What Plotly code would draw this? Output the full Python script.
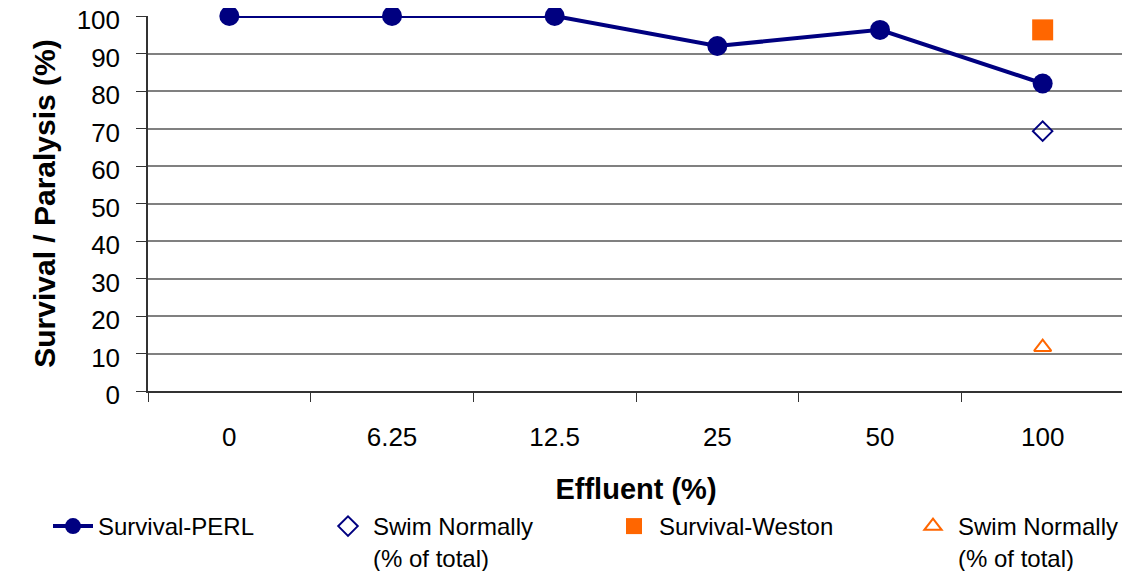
import plotly.graph_objects as go

categories = ["0", "6.25", "12.5", "25", "50", "100"]
perl_survival = [100, 100, 100, 92, 96.3, 82]
perl_swim_x = ["100"]
perl_swim = [69.3]
weston_survival_x = ["100"]
weston_survival = [96.3]
weston_swim_x = ["100"]
weston_swim = [11.7]
y_ticks = list(range(0, 101, 10))

NAVY = "#000080"
ORANGE = "#FF6600"
FONT = "Liberation Sans, Arial, sans-serif"

# page has an 8px body margin; figure coords are page coords minus 8
OFF = 8
W, H = 1130 - OFF, 571 - OFF
L, T = 148 - OFF, 16 - OFF
R = W - (1124 - OFF)
B = H - (391 - OFF)
pw = W - L - R
ph = H - T - B

def px_x(page_x):
    return (page_x - OFF - L) / pw

def px_y(page_y):
    return (H - B - (page_y - OFF)) / ph

fig = go.Figure()
fig.add_trace(go.Scatter(
    x=categories, y=perl_survival, mode="lines+markers", name="Survival-PERL",
    line=dict(color=NAVY, width=4),
    marker=dict(symbol="circle", size=20, color=NAVY),
    legend="legend", cliponaxis=False))
fig.add_trace(go.Scatter(
    x=perl_swim_x, y=perl_swim, mode="markers", name="Swim Normally<br>(% of total)",
    line=dict(color=NAVY, width=2, dash="dash"),
    marker=dict(symbol="diamond-open", size=15, color=NAVY, line=dict(width=2)),
    legend="legend2", cliponaxis=False))
fig.add_trace(go.Scatter(
    x=weston_survival_x, y=weston_survival, mode="markers", name="Survival-Weston",
    marker=dict(symbol="square", size=21, color=ORANGE),
    legend="legend3", cliponaxis=False))
fig.add_trace(go.Scatter(
    x=weston_swim_x, y=weston_swim, mode="markers", name="Swim Normally<br>(% of total)",
    marker=dict(symbol="triangle-up-open", size=15, color=ORANGE, line=dict(width=2)),
    legend="legend4", cliponaxis=False))

leg_common = dict(font=dict(family=FONT, size=24, color="#000000"),
                  bgcolor="rgba(0,0,0,0)", xanchor="left", yanchor="top",
                  valign="top", tracegroupgap=0, itemwidth=40)
ly = px_y(504)
fig.update_layout(
    legend=dict(x=px_x(48), y=ly, **leg_common),
    legend2=dict(x=px_x(323), y=ly, **leg_common),
    legend3=dict(x=px_x(609), y=ly, **leg_common),
    legend4=dict(x=px_x(908), y=ly, **leg_common),
)

fig.update_xaxes(
    type="category", categoryorder="array", categoryarray=categories,
    range=[-0.5, 5.5], showgrid=False, showline=True, linecolor="#333333", linewidth=1.5,
    ticks="outside", tickson="boundaries", ticklen=9, tickcolor="#333333",
    tickfont=dict(family=FONT, size=26, color="#000000"), ticklabelstandoff=22,
    ticklabeloverflow="allow",
    title=dict(text="<b>Effluent (%)</b>", font=dict(family=FONT, size=29, color="#000000"), standoff=28),
    zeroline=False, fixedrange=True)
fig.update_yaxes(
    range=[0, 100], tickvals=y_ticks, showgrid=True, gridcolor="#808080", gridwidth=1.5,
    showline=True, linecolor="#333333", linewidth=1.5,
    ticks="outside", ticklen=10, tickcolor="#333333",
    tickfont=dict(family=FONT, size=26, color="#000000"), ticklabelstandoff=11,
    ticklabelshift=4, ticklabeloverflow="allow",
    title=dict(text="<b>Survival / Paralysis (%)</b>", font=dict(family=FONT, size=30, color="#000000"), standoff=12),
    zeroline=False, fixedrange=True)

fig.add_shape(type="line", xref="paper", yref="paper", x0=1, x1=1, y0=0, y1=1,
              line=dict(color="#808080", width=2))

fig.update_layout(
    width=W, height=H, margin=dict(l=L, r=R, t=T, b=B, autoexpand=False),
    plot_bgcolor="#FFFFFF", paper_bgcolor="#FFFFFF", showlegend=True,
    hovermode=False)

fig.write_html("out.html")
